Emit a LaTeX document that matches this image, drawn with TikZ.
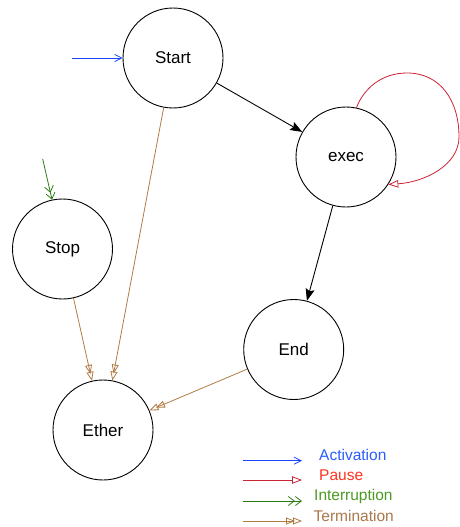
\documentclass[tikz,border=0pt]{standalone}
\usepackage{fontspec}
\setmainfont{Liberation Sans}
\usetikzlibrary{arrows.meta}
\definecolor{actline}{HTML}{1844FF}
\definecolor{acttext}{HTML}{2A5CFF}
\definecolor{pauline}{HTML}{CC2233}
\definecolor{pautext}{HTML}{FF3320}
\definecolor{intline}{HTML}{2E7A14}
\definecolor{inttext}{HTML}{4C9A24}
\definecolor{terline}{HTML}{B07C46}
\definecolor{tertext}{HTML}{A8784A}
\tikzset{
  state/.style={circle, draw=black, line width=0.9pt, minimum size=100pt, inner sep=0pt, font=\fontsize{17}{20}\selectfont},
  legtext/.style={anchor=west, inner sep=0pt, font=\fontsize{15.5}{18}\selectfont},
  activation/.style={draw=actline, line width=0.8pt, -{Straight Barb[length=7pt,width=7pt]}},
  pause/.style={draw=pauline, line width=0.8pt, -{Triangle[open,length=10pt,width=7.5pt]}},
  interruption/.style={draw=intline, line width=0.8pt, -{Straight Barb[length=6pt,width=9pt] Straight Barb[length=6pt,width=9pt]}},
  termination/.style={draw=terline, line width=0.8pt, -{Triangle[open,length=9pt,width=7pt,sep=-2pt] Triangle[open,length=9pt,width=7pt]}},
  normal/.style={draw=black, line width=0.9pt, -{Stealth[length=12pt,width=9pt,inset=2pt]}}
}
\begin{document}
\begin{tikzpicture}[x=1pt,y=-1pt]
\useasboundingbox (0,0) rectangle (459,527);
\node[state] (start) at (173,58) {Start};
\node[state] (exec) at (346,157) {exec};
\node[state] (stop) at (62.5,249) {Stop};
\node[state] (end) at (293.7,349.5) {End};
\node[state] (ether) at (103,430) {Ether};
\coordinate (actsrc) at (72,58);
\coordinate (intsrc) at (42.7,159);
\draw[activation] (actsrc) -- (start.west);
\draw[interruption] (intsrc) -- (stop.102);
\draw[normal] (start) -- (exec);
\draw[normal] (exec) -- (end);
\draw[pause] (exec.78.7) .. controls (364,88) and (382,73) .. (407,73)
  .. controls (440,73) and (459,100) .. (459,137)
  .. controls (459,165) and (425,182) .. (exec.-33.4);
\draw[termination] (start) -- (ether);
\draw[termination] (stop) -- (ether);
\draw[termination] (end) -- (ether);
% legend
\coordinate (la1) at (243,460.7); \coordinate (la2) at (302,460.7);
\coordinate (lp1) at (243,480); \coordinate (lp2) at (302,480);
\coordinate (li1) at (243,501); \coordinate (li2) at (302,501);
\coordinate (lt1) at (243,521); \coordinate (lt2) at (302,521);
\draw[activation] (la1) -- (la2);
\draw[pause] (lp1) -- (lp2);
\draw[interruption] (li1) -- (li2);
\draw[termination] (lt1) -- (lt2);
\node[legtext, text=acttext] (lact) at (319,455) {Activation};
\node[legtext, text=pautext] (lpau) at (319,475) {Pause};
\node[legtext, text=inttext] (lint) at (314,496) {Interruption};
\node[legtext, text=tertext] (lter) at (313.5,516) {Termination};
\end{tikzpicture}
\end{document}
